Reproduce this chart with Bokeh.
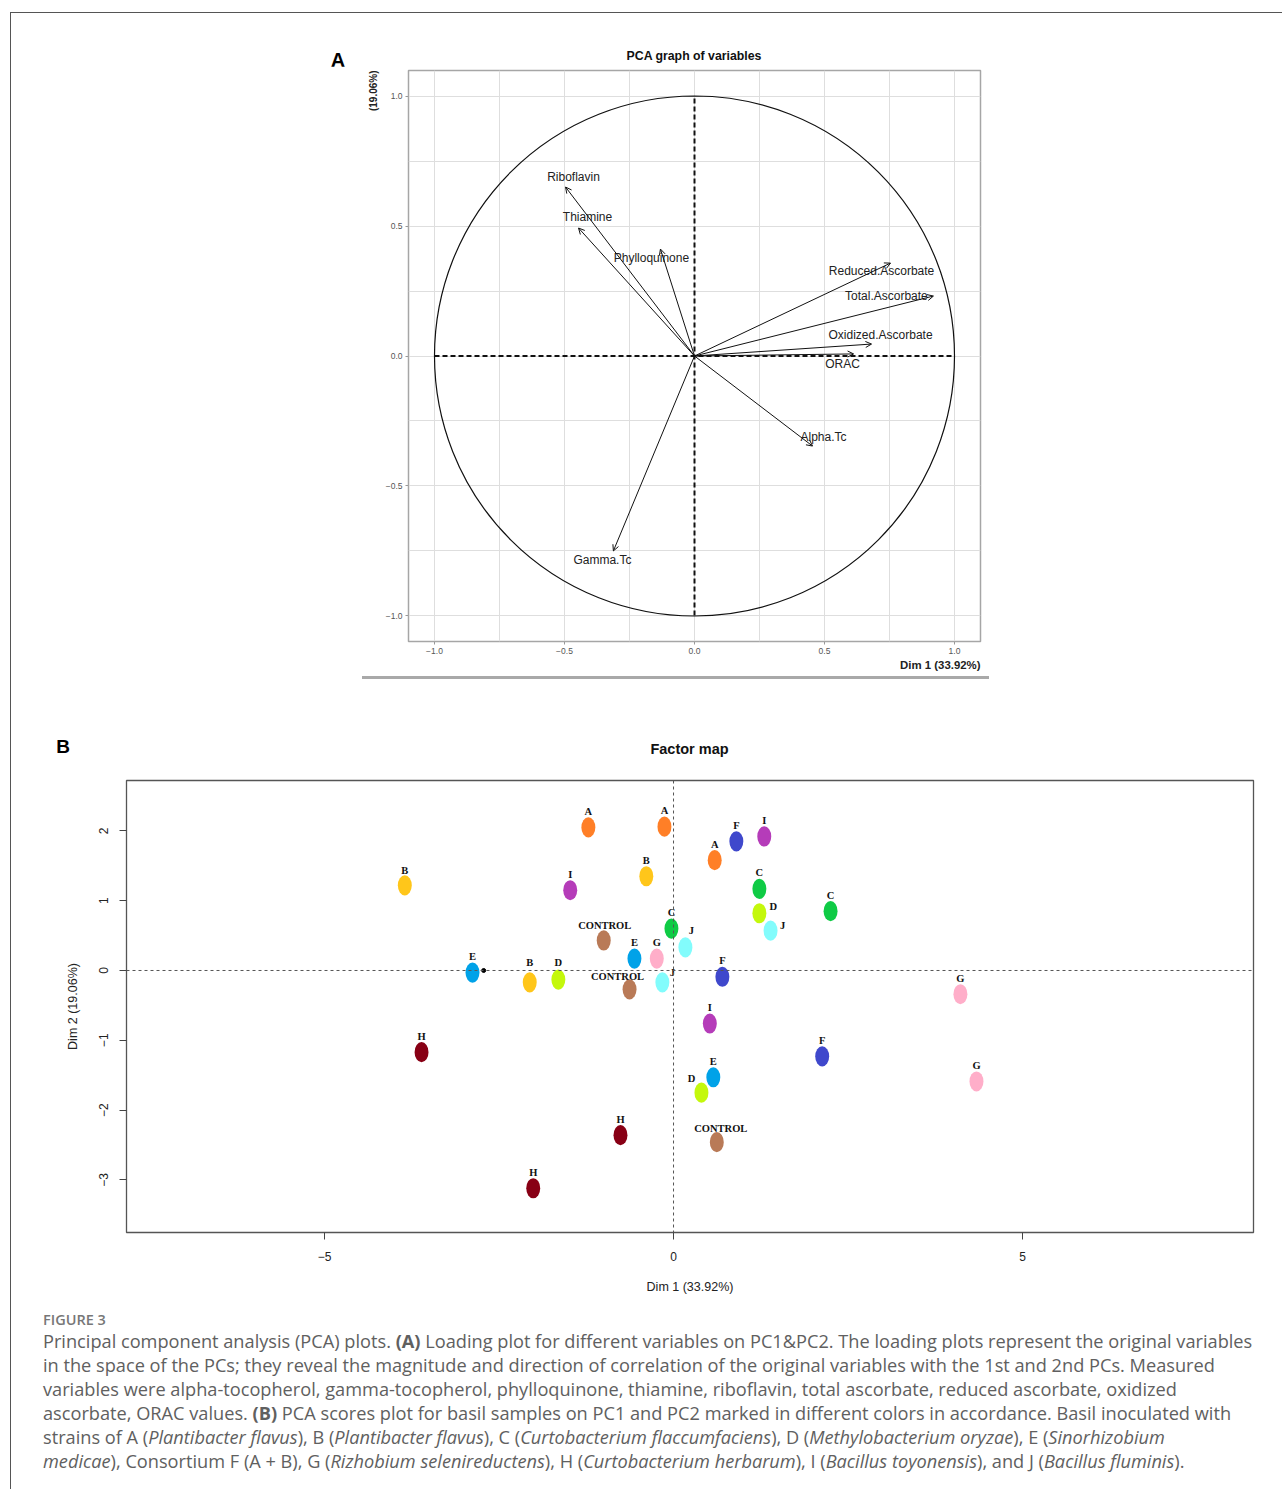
from bokeh.plotting import figure
from bokeh.models import (Range1d, FixedTicker, Title, Arrow, OpenHead,
                          ColumnDataSource, Span, Div, Spacer)
from bokeh.layouts import column, row
from bokeh.core.properties import value
from bokeh.embed import file_html
from bokeh.resources import INLINE

# ---------------- Panel A data (variable loadings) ----------------
var_names = ["Riboflavin", "Thiamine", "Phylloquinone", "Reduced.Ascorbate",
             "Total.Ascorbate", "Oxidized.Ascorbate", "ORAC", "Alpha.Tc", "Gamma.Tc"]
dim1_load = [-0.496, -0.446, -0.131, 0.754, 0.919, 0.681, 0.612, 0.454, -0.312]
dim2_load = [0.651, 0.493, 0.412, 0.358, 0.231, 0.046, 0.008, -0.347, -0.751]
a_ticks = [-1.0, -0.5, 0.0, 0.5, 1.0]
a_tick_labels = ["\u22121.0", "\u22120.5", "0.0", "0.5", "1.0"]
a_grid_ticks = [-1.0, -0.75, -0.5, -0.25, 0.0, 0.25, 0.5, 0.75, 1.0]

# label offsets from arrow tips (pixels, right / down)
var_label_dx = [8, 9, -9, -9, -47, 9, -11, 11, -11]
var_label_dy = [-10, -11, 9, 8, 0, -9, 10, -9, 9]

# ---------------- Panel B data (individual scores) ----------------
groups = ["A", "A", "A", "B", "B", "B", "C", "C", "C", "D", "D", "D",
          "E", "E", "E", "F", "F", "F", "G", "G", "G", "H", "H", "H",
          "I", "I", "I", "J", "J", "J", "CONTROL", "CONTROL", "CONTROL"]
dim1_score = [-1.22, -0.13, 0.59, -3.85, -0.39, -2.06, 1.23, 2.25, -0.03,
              1.23, -1.65, 0.40, -0.56, -2.88, 0.57, 0.90, 0.70, 2.13,
              -0.24, 4.11, 4.34, -3.61, -0.76, -2.01, 1.30, -1.48, 0.52,
              1.39, 0.17, -0.16, -1.00, -0.63, 0.62]
dim2_score = [2.05, 2.06, 1.58, 1.22, 1.35, -0.17, 1.17, 0.85, 0.60,
              0.82, -0.13, -1.75, 0.17, -0.03, -1.53, 1.85, -0.09, -1.23,
              0.17, -0.34, -1.59, -1.17, -2.36, -3.12, 1.92, 1.15, -0.76,
              0.57, 0.33, -0.17, 0.43, -0.27, -2.46]
centroid_x = [-2.72]
centroid_y = [0.0]
b_xticks = [-5, 0, 5]
b_xtick_labels = ["\u22125", "0", "5"]
b_yticks = [-3, -2, -1, 0, 1, 2]
b_ytick_labels = ["\u22123", "\u22122", "\u22121", "0", "1", "2"]

group_colors = {"A": "#FF7F27", "B": "#FFC61A", "C": "#0FCB45", "D": "#C4F80C",
                "E": "#00A2E8", "F": "#3F48CC", "G": "#FFAEC9", "H": "#880015",
                "I": "#B53CB9", "J": "#82FCFC", "CONTROL": "#B97A57"}

# label offsets (pixels, right / down) for each score label
score_label_dx = [0] * len(groups)
score_label_dy = [-16] * len(groups)
for i, (dx, dy) in {3: (0, -15), 5: (0, -20), 9: (14, -7), 10: (0, -17),
                    11: (-10, -14), 27: (12, -5), 28: (6, -17), 29: (10, -10),
                    30: (1, -15), 31: (-12, -13), 32: (4, -14)}.items():
    score_label_dx[i] = dx
    score_label_dy[i] = dy

SANS = "Liberation Sans"
SERIF = "Liberation Serif"

# ====================== Panel A ======================
PXA = 260.0
pA = figure(width=708, height=610, x_range=Range1d(-1.1, 1.1), y_range=Range1d(-1.1, 1.1),
            output_backend="svg", toolbar_location=None, title=None,
            min_border_left=115, min_border_right=21, min_border_top=4, min_border_bottom=35)
pA.background_fill_color = "white"
pA.border_fill_color = "white"
pA.outline_line_color = "#a6a6a6"
pA.outline_line_width = 1.5
for g in (pA.xgrid, pA.ygrid):
    g.ticker = FixedTicker(ticks=a_grid_ticks)
    g.grid_line_color = "#dedede"
    g.grid_line_width = 1
pA.xaxis.ticker = FixedTicker(ticks=a_ticks)
pA.yaxis.ticker = FixedTicker(ticks=a_ticks)
pA.xaxis.major_label_overrides = dict(zip(a_ticks, a_tick_labels))
pA.yaxis.major_label_overrides = dict(zip(a_ticks, a_tick_labels))
for ax in (pA.xaxis, pA.yaxis):
    ax.axis_line_color = None
    ax.major_tick_line_color = "#999999"
    ax.major_tick_out = 3
    ax.major_tick_in = 0
    ax.minor_tick_line_color = None
    ax.major_label_text_font = SANS
    ax.major_label_text_font_size = "8.5px"
    ax.major_label_text_color = "#555555"
    ax.major_label_standoff = 3

pA.circle(x=[0], y=[0], radius=1, fill_color=None, line_color="#111111", line_width=1.2)
pA.segment(x0=[-1, 0], y0=[0, -1], x1=[1, 0], y1=[0, 1], line_color="#111111",
           line_width=2, line_dash="5 3")

arrow_src = ColumnDataSource(dict(x0=[0.0] * len(var_names), y0=[0.0] * len(var_names),
                                  x1=dim1_load, y1=dim2_load))
pA.add_layout(Arrow(end=OpenHead(size=6, line_width=1, line_color="#111111"),
                    x_start="x0", y_start="y0", x_end="x1", y_end="y1",
                    source=arrow_src, line_color="#111111", line_width=1))

lab_x = [x + dx / PXA for x, dx in zip(dim1_load, var_label_dx)]
lab_y = [y - dy / PXA for y, dy in zip(dim2_load, var_label_dy)]
pA.text(x=lab_x, y=lab_y, text=var_names, text_font=value(SANS), text_font_size="12px",
        text_align="center", text_baseline="middle", text_color="#222222")

pA.add_layout(Title(text="(19.06%)", align="right", text_font=SANS, text_font_size="10px",
                    text_font_style="bold", text_color="#222222", standoff=8), "left")
pA.add_layout(Title(text="Dim 1 (33.92%)", align="right", text_font=SANS, text_font_size="11.4px",
                    text_font_style="bold", text_color="#222222", standoff=0), "below")

# ====================== Panel B ======================
PXB = 69.8
pB = figure(width=1263, height=545, x_range=Range1d(-7.837, 8.309), y_range=Range1d(-3.754, 2.722),
            output_backend="svg", toolbar_location=None, title=None,
            min_border_left=115, min_border_right=21, min_border_top=20, min_border_bottom=73)
pB.background_fill_color = "white"
pB.border_fill_color = "white"
pB.outline_line_color = "#555555"
pB.outline_line_width = 1.3
pB.grid.visible = False
pB.xaxis.ticker = FixedTicker(ticks=b_xticks)
pB.yaxis.ticker = FixedTicker(ticks=b_yticks)
pB.xaxis.major_label_overrides = dict(zip(b_xticks, b_xtick_labels))
pB.yaxis.major_label_overrides = dict(zip(b_yticks, b_ytick_labels))
pB.yaxis.major_label_orientation = "vertical"
pB.xaxis.axis_label = "Dim 1 (33.92%)"
pB.yaxis.axis_label = "Dim 2 (19.06%)"
for ax in (pB.xaxis, pB.yaxis):
    ax.axis_line_color = None
    ax.major_tick_line_color = "#444444"
    ax.major_tick_line_width = 1
    ax.major_tick_out = 7
    ax.major_tick_in = 0
    ax.minor_tick_line_color = None
    ax.major_label_text_font = SANS
    ax.major_label_text_font_size = "12px"
    ax.major_label_text_color = "#222222"
    ax.axis_label_text_font = SANS
    ax.axis_label_text_font_size = "12.5px"
    ax.axis_label_text_font_style = "normal"
    ax.axis_label_text_color = "#222222"
pB.xaxis.major_label_standoff = 12
pB.xaxis.axis_label_standoff = 16
pB.yaxis.major_label_standoff = 11
pB.yaxis.axis_label_standoff = 17

pB.add_layout(Span(location=0, dimension="height", line_color="#555555", line_width=1, line_dash="3 3"))
pB.add_layout(Span(location=0, dimension="width", line_color="#555555", line_width=1, line_dash="3 3"))

score_src = ColumnDataSource(dict(x=dim1_score, y=dim2_score, g=groups,
                                  c=[group_colors[g] for g in groups]))
pB.ellipse(x="x", y="y", width=0.2, height=0.29, fill_color="c", line_color=None, source=score_src)
pB.scatter(x=centroid_x, y=centroid_y, size=4, color="black")

slx = [x + dx / PXB for x, dx in zip(dim1_score, score_label_dx)]
sly = [y - dy / PXB for y, dy in zip(dim2_score, score_label_dy)]
pB.text(x=slx, y=sly, text=groups, text_font=value(SERIF), text_font_size="10.5px",
        text_font_style="bold", text_align="center", text_baseline="middle", text_color="#111111")


# ====================== HTML text pieces ======================
def text_div(txt, w, h, size, pad_top, line_h, bold=True, align="center", color="#111111"):
    weight = "bold" if bold else "normal"
    html = (f"<div style=\"width:{w}px;font-family:'{SANS}',Arial,sans-serif;font-size:{size}px;"
            f"line-height:{line_h}px;font-weight:{weight};color:{color};text-align:{align};"
            f"padding-top:{pad_top}px;white-space:nowrap;\">{txt}</div>")
    return Div(text=html, width=w, height=h, margin=0)


title_row_a = row(Spacer(width=309, height=53, margin=0),
                  text_div("A", 36, 53, 20, 37, 20, color="#000000"),
                  Spacer(width=52, height=53, margin=0),
                  text_div("PCA graph of variables", 572, 53, 12.3, 36, 15))
title_row_b = row(Spacer(width=42, height=81, margin=0),
                  text_div("B", 20, 81, 19, 57, 22, color="#000000"),
                  Spacer(width=53, height=81, margin=0),
                  text_div("Factor map", 1127, 81, 14.5, 61, 18))

cap_lines = [
    "Principal component analysis (PCA) plots. <b>(A)</b> Loading plot for different variables on PC1&amp;PC2. The loading plots represent the original variables",
    "in the space of the PCs; they reveal the magnitude and direction of correlation of the original variables with the 1st and 2nd PCs. Measured",
    "variables were alpha-tocopherol, gamma-tocopherol, phylloquinone, thiamine, riboflavin, total ascorbate, reduced ascorbate, oxidized",
    "ascorbate, ORAC values. <b>(B)</b> PCA scores plot for basil samples on PC1 and PC2 marked in different colors in accordance. Basil inoculated with",
    "strains of A (<i>Plantibacter flavus</i>), B (<i>Plantibacter flavus</i>), C (<i>Curtobacterium flaccumfaciens</i>), D (<i>Methylobacterium oryzae</i>), E (<i>Sinorhizobium</i>",
    "<i>medicae</i>), Consortium F (A + B), G (<i>Rizhobium selenireductens</i>), H (<i>Curtobacterium herbarum</i>), I (<i>Bacillus toyonensis</i>), and J (<i>Bacillus fluminis</i>).",
]
cap_html = (
    "<div style=\"font-family:'Open Sans',sans-serif;padding:6px 0 0 32px;white-space:nowrap;\">"
    "<div style=\"font-size:14.5px;line-height:18px;color:#777777;font-weight:600;\">FIGURE 3</div>"
    "<div style=\"font-size:18.2px;line-height:24px;color:#606060;\">"
    + "<br>".join(cap_lines) +
    "</div></div>"
)
caption = Div(text=cap_html, width=1263, height=178, margin=0)

rule = Div(text="", width=627, height=3, margin=0, styles={"background-color": "#a9a9a9"})
top_line = Div(text="", width=1272, height=1, margin=0, styles={"background-color": "#555555"})
left_line = Div(text="", width=1, height=1476, margin=0, styles={"background-color": "#555555"})

inner = column(title_row_a,
               row(Spacer(width=282, height=610, margin=0), pA),
               row(Spacer(width=351, height=3, margin=0), rule),
               title_row_b,
               row(pB),
               caption)
layout = column(Spacer(width=10, height=12, margin=0),
                row(Spacer(width=10, height=1, margin=0), top_line),
                row(Spacer(width=10, height=10, margin=0), left_line, inner))

open("out.html", "w").write(file_html(layout, INLINE))
